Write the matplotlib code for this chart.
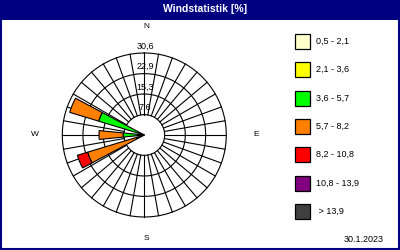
import numpy as np
import matplotlib
matplotlib.use("Agg")
import matplotlib.pyplot as plt
from matplotlib.patches import Rectangle

# ---------------- data ----------------
title = "Windstatistik [%]"
date_label = "30.1.2023"
directions = ["N", "NNE", "NE", "ENE", "E", "ESE", "SE", "SSE",
              "S", "SSW", "SW", "WSW", "W", "WNW", "NW", "NNW"]
class_labels = ["0,5 - 2,1", "2,1 - 3,6", "3,6 - 5,7", "5,7 - 8,2",
                "8,2 - 10,8", "10,8 - 13,9", " > 13,9"]
class_colors = ["#FFFFCC", "#FFFF00", "#00FF00", "#FF8000",
                "#FF0000", "#800080", "#404040"]
# percent per class for each direction (only WSW, W, WNW non-zero)
c_05_21 = [0, 0, 0, 0, 0, 0, 0, 0, 0, 0, 0, 0.6, 0.8, 0.8, 0, 0]
c_21_36 = [0, 0, 0, 0, 0, 0, 0, 0, 0, 0, 0, 1.0, 1.4, 1.2, 0, 0]
c_36_57 = [0, 0, 0, 0, 0, 0, 0, 0, 0, 0, 0, 1.4, 5.7, 15.8, 0, 0]
c_57_82 = [0, 0, 0, 0, 0, 0, 0, 0, 0, 0, 0, 19.1, 9.0, 11.3, 0, 0]
c_82_108 = [0, 0, 0, 0, 0, 0, 0, 0, 0, 0, 0, 4.0, 0, 0, 0, 0]
c_108_139 = [0] * 16
c_gt_139 = [0] * 16
ring_values = [7.6, 15.3, 22.9, 30.6]
ring_labels = ["7,6", "15,3", "22,9", "30,6"]

classes = [c_05_21, c_21_36, c_36_57, c_57_82, c_82_108, c_108_139, c_gt_139]

# ---------------- figure ----------------
W, H = 400, 250
fig = plt.figure(figsize=(4, 2.5), dpi=100)
fig.patch.set_facecolor("white")
font = ["Liberation Sans Narrow", "Liberation Sans", "DejaVu Sans"]

def fx(x):
    return x / W

def fy(y):
    return 1 - y / H

# title bar
fig.patches.append(Rectangle((0, fy(20)), 1, 20 / H, transform=fig.transFigure,
                             facecolor="#000080", edgecolor="none", zorder=0))
fig.text(fx(205), fy(9.5), title, color="white", fontweight="bold",
         fontsize=7.5, ha="center", va="center", family=font)
# frame border
fig.patches.append(Rectangle((0.002, 0.003), 0.995, 0.994, transform=fig.transFigure,
                             facecolor="none", edgecolor="#000080", lw=1.5, zorder=10))

# polar rose
cx, cy, R = 144.3, 135.0, 82.0
ax = fig.add_axes([fx(cx - R), fy(cy + R), 2 * R / W, 2 * R / H], projection="polar")
ax.set_theta_zero_location("N")
ax.set_theta_direction(-1)
ax.set_ylim(0, ring_values[-1])
ax.grid(False)
ax.set_xticks([])
ax.set_yticks([])
ax.spines["polar"].set_visible(False)
ax.set_facecolor("white")

tt = np.linspace(0, 2 * np.pi, 400)
for rv in ring_values:
    ax.plot(tt, np.full_like(tt, rv), color="black", lw=0.8, zorder=1, clip_on=False)
for d in range(0, 360, 10):
    th = np.deg2rad(d)
    ax.plot([th, th], [ring_values[0], ring_values[-1]], color="black", lw=0.8,
            zorder=1, clip_on=False)

theta = np.deg2rad(np.arange(16) * 22.5)
width = np.deg2rad(11.25)
bottom = np.zeros(16)
for vals, col in zip(classes, class_colors):
    v = np.array(vals, dtype=float)
    mask = v > 0
    if mask.any():
        ax.bar(theta[mask], v[mask], width=width, bottom=bottom[mask], color=col,
               edgecolor="black", lw=0.8, zorder=3)
    bottom += v

for rv, lbl in zip(ring_values, ring_labels):
    ax.annotate(lbl, (0, rv), xytext=(1, 7), textcoords="offset pixels",
                ha="center", va="center", fontsize=6.5, family=font,
                color="black", zorder=5, annotation_clip=False)

scale = ring_values[-1] / R
for lbl, deg, rp, dx in [("N", 0, 108, 2), ("E", 90, 112, 0), ("S", 180, 103, 2), ("W", 270, 109, 0)]:
    ax.annotate(lbl, (np.deg2rad(deg), rp * scale), xytext=(dx, 0), textcoords="offset pixels",
                ha="center", va="center", fontsize=6, family=font,
                annotation_clip=False)

# legend
for i, (lbl, col) in enumerate(zip(class_labels, class_colors)):
    top = 34 + i * 28.3
    fig.patches.append(Rectangle((fx(295), fy(top + 15)), 15 / W, 15 / H,
                                 transform=fig.transFigure, facecolor=col,
                                 edgecolor="black", lw=0.9, zorder=5))
    fig.text(fx(316.5), fy(top + 7.5), lbl, fontsize=6.5, ha="left", va="center",
             family=font)

fig.text(fx(384), fy(239), date_label, fontsize=6.5, ha="right", va="center", family=font)

fig.savefig("out.png", dpi=100, facecolor="white")
